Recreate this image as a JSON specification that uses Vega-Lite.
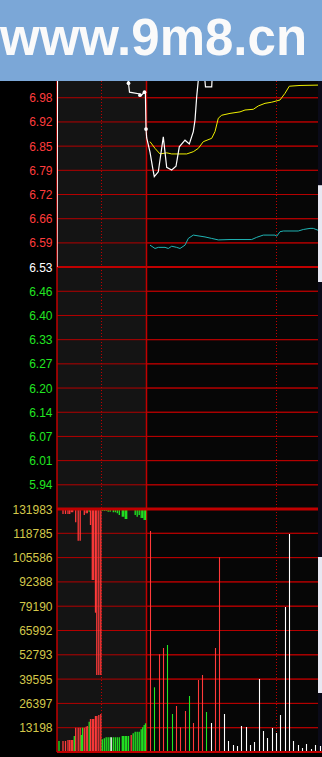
{
  "$schema": "https://vega.github.io/schema/vega-lite/v6.json",
  "background": "#000000",
  "padding": {"left": 0, "top": 0, "right": 0, "bottom": 5},
  "spacing": 0,
  "bounds": "flush",
  "config": {
    "view": {"stroke": null},
    "scale": {"continuousPadding": 0},
    "axis": {"labelFont": "Liberation Sans", "labelFontSize": 12, "ticks": false, "tickSize": 0, "domain": false, "grid": false, "labelPadding": 5, "minExtent": 57, "maxExtent": 57, "labelFlush": false, "labelOverlap": false, "tickCount": 100, "title": null}
  },
  "datasets": {
    "price": [
      {"t": 0, "p": 6.53, "s": "price"}, {"t": 0.6, "p": 7.12, "s": "price"}, {"t": 1.2, "p": 7.18, "s": "price"},
      {"t": 68, "p": 7.18, "s": "price"}, {"t": 70.5, "p": 7.08, "s": "price"}, {"t": 71.5, "p": 7.024, "s": "price"},
      {"t": 72.5, "p": 7.0, "s": "price"}, {"t": 83, "p": 6.995, "s": "price"}, {"t": 84.5, "p": 6.992, "s": "price"},
      {"t": 87.5, "p": 7.0, "s": "price"}, {"t": 88.4, "p": 6.998, "s": "price"}, {"t": 89, "p": 6.901, "s": "price"},
      {"t": 89.7, "p": 6.877, "s": "price"}, {"t": 93, "p": 6.839, "s": "price"}, {"t": 95.7, "p": 6.796, "s": "price"},
      {"t": 97.3, "p": 6.773, "s": "price"}, {"t": 101.3, "p": 6.786, "s": "price"}, {"t": 106.3, "p": 6.88, "s": "price"},
      {"t": 109.7, "p": 6.798, "s": "price"}, {"t": 114.7, "p": 6.791, "s": "price"}, {"t": 119, "p": 6.801, "s": "price"},
      {"t": 122.3, "p": 6.853, "s": "price"}, {"t": 128, "p": 6.871, "s": "price"}, {"t": 132.3, "p": 6.861, "s": "price"},
      {"t": 136.3, "p": 6.894, "s": "price"}, {"t": 138, "p": 6.925, "s": "price"}, {"t": 139.7, "p": 6.988, "s": "price"},
      {"t": 141.3, "p": 7.032, "s": "price"}, {"t": 143, "p": 7.1, "s": "price"}, {"t": 146.5, "p": 7.1, "s": "price"},
      {"t": 147.3, "p": 7.05, "s": "price"}, {"t": 148.5, "p": 7.014, "s": "price"}, {"t": 154.7, "p": 7.014, "s": "price"},
      {"t": 155.3, "p": 7.05, "s": "price"}, {"t": 156.5, "p": 7.12, "s": "price"}, {"t": 261, "p": 7.15, "s": "price"},
      {"t": 93, "p": 6.867, "s": "avg"}, {"t": 98, "p": 6.849, "s": "avg"}, {"t": 103, "p": 6.834, "s": "avg"},
      {"t": 109.7, "p": 6.837, "s": "avg"}, {"t": 114.7, "p": 6.834, "s": "avg"}, {"t": 129.7, "p": 6.834, "s": "avg"},
      {"t": 136.3, "p": 6.84, "s": "avg"}, {"t": 141.3, "p": 6.849, "s": "avg"}, {"t": 146.3, "p": 6.867, "s": "avg"},
      {"t": 154.7, "p": 6.876, "s": "avg"}, {"t": 158, "p": 6.894, "s": "avg"}, {"t": 161.3, "p": 6.93, "s": "avg"},
      {"t": 164.7, "p": 6.938, "s": "avg"}, {"t": 173, "p": 6.943, "s": "avg"}, {"t": 183, "p": 6.947, "s": "avg"},
      {"t": 188, "p": 6.952, "s": "avg"}, {"t": 196.3, "p": 6.954, "s": "avg"}, {"t": 201.3, "p": 6.963, "s": "avg"},
      {"t": 208, "p": 6.97, "s": "avg"}, {"t": 214.7, "p": 6.973, "s": "avg"}, {"t": 223, "p": 6.979, "s": "avg"},
      {"t": 228, "p": 6.997, "s": "avg"}, {"t": 232.3, "p": 7.016, "s": "avg"}, {"t": 243, "p": 7.018, "s": "avg"},
      {"t": 261, "p": 7.019, "s": "avg"},
      {"t": 93, "p": 6.589, "s": "osc"}, {"t": 98, "p": 6.58, "s": "osc"}, {"t": 101.3, "p": 6.583, "s": "osc"},
      {"t": 108, "p": 6.583, "s": "osc"}, {"t": 111.3, "p": 6.58, "s": "osc"}, {"t": 114.7, "p": 6.586, "s": "osc"},
      {"t": 119.7, "p": 6.583, "s": "osc"}, {"t": 123, "p": 6.58, "s": "osc"}, {"t": 128, "p": 6.589, "s": "osc"},
      {"t": 131.3, "p": 6.607, "s": "osc"}, {"t": 136.3, "p": 6.616, "s": "osc"}, {"t": 148, "p": 6.611, "s": "osc"},
      {"t": 154.7, "p": 6.607, "s": "osc"}, {"t": 161.3, "p": 6.603, "s": "osc"}, {"t": 173, "p": 6.604, "s": "osc"},
      {"t": 194.7, "p": 6.604, "s": "osc"}, {"t": 199.7, "p": 6.61, "s": "osc"}, {"t": 206.3, "p": 6.616, "s": "osc"},
      {"t": 218, "p": 6.616, "s": "osc"}, {"t": 219.7, "p": 6.613, "s": "osc"}, {"t": 223, "p": 6.625, "s": "osc"},
      {"t": 226.3, "p": 6.627, "s": "osc"}, {"t": 241.3, "p": 6.627, "s": "osc"}, {"t": 246.3, "p": 6.631, "s": "osc"},
      {"t": 253, "p": 6.634, "s": "osc"}, {"t": 256.3, "p": 6.634, "s": "osc"}, {"t": 261, "p": 6.629, "s": "osc"}
    ],
    "dots": [
      {"t": 71.5, "p": 7.024}, {"t": 83, "p": 6.992}, {"t": 87.5, "p": 7.0}, {"t": 89, "p": 6.901}
    ],
    "priceTicks": [
      {"p": 5.945}, {"p": 6.01}, {"p": 6.075}, {"p": 6.14}, {"p": 6.205}, {"p": 6.27}, {"p": 6.335}, {"p": 6.4},
      {"p": 6.465}, {"p": 6.595}, {"p": 6.66}, {"p": 6.725}, {"p": 6.79}, {"p": 6.855}, {"p": 6.92}, {"p": 6.985}
    ],
    "volTicks": [
      {"v": 13198.3}, {"v": 26396.6}, {"v": 39594.9}, {"v": 52793.2}, {"v": 65991.5},
      {"v": 79189.8}, {"v": 92388.1}, {"v": 105586.4}, {"v": 118784.7}
    ],
    "prevBars": [
      {"t": 2, "v": 5974, "h": 131430, "c": "g"}, {"t": 6, "v": 5974, "h": 129258, "c": "r"},
      {"t": 8.5, "v": 5974, "h": 129258, "c": "r"}, {"t": 11, "v": 6517, "h": 129258, "c": "r"},
      {"t": 12.7, "v": 6517, "h": 129258, "c": "r"}, {"t": 14.3, "v": 6517, "h": 130181, "c": "r"},
      {"t": 15.7, "v": 6517, "h": 130181, "c": "r"}, {"t": 17.3, "v": 8690, "h": null, "c": "g"},
      {"t": 18.7, "v": 13197, "h": 124750, "c": "r"}, {"t": 21.2, "v": 13197, "h": 114757, "c": "r"},
      {"t": 23.2, "v": 13197, "h": 114757, "c": "r"}, {"t": 24.3, "v": 9233, "h": null, "c": "g"},
      {"t": 25.5, "v": 13197, "h": 131430, "c": "g"}, {"t": 27.3, "v": 13197, "h": 128715, "c": "r"},
      {"t": 29.2, "v": 13740, "h": 129638, "c": "r"}, {"t": 30.3, "v": 14121, "h": 129638, "c": "r"},
      {"t": 32.2, "v": 16456, "h": 130507, "c": "g"}, {"t": 33.5, "v": 17922, "h": 123284, "c": "r"},
      {"t": 35.3, "v": 17922, "h": 93413, "c": "r"}, {"t": 36.7, "v": 17922, "h": 93413, "c": "r"},
      {"t": 38.5, "v": 19552, "h": 75654, "c": "r"}, {"t": 39.8, "v": 19552, "h": 41819, "c": "r"},
      {"t": 41.8, "v": 20095, "h": 41819, "c": "r"}, {"t": 43.8, "v": 20638, "h": 41819, "c": "r"},
      {"t": 45.3, "v": 6897, "h": 130887, "c": "g"}, {"t": 47.3, "v": 7440, "h": 130887, "c": "g"},
      {"t": 49.2, "v": 7983, "h": 130887, "c": "g"}, {"t": 51.2, "v": 7983, "h": 130507, "c": "g"},
      {"t": 53.2, "v": 7983, "h": 130507, "c": "g"}, {"t": 54.2, "v": 7983, "h": null, "c": "w"},
      {"t": 56.3, "v": 7983, "h": 130181, "c": "g"}, {"t": 58.3, "v": 7983, "h": 130181, "c": "g"},
      {"t": 60.3, "v": 7983, "h": 129638, "c": "g"}, {"t": 62.3, "v": 7983, "h": 128715, "c": "g"},
      {"t": 65.3, "v": 8690, "h": 127792, "c": "g"}, {"t": 66.7, "v": 8690, "h": 127792, "c": "g"},
      {"t": 68.3, "v": 8690, "h": 126542, "c": "g"}, {"t": 69.7, "v": 8690, "h": 126542, "c": "g"},
      {"t": 71.5, "v": 8690, "h": 131430, "c": "g"}, {"t": 74.2, "v": 9233, "h": 131430, "c": "r"},
      {"t": 76.2, "v": 10156, "h": null, "c": "g"}, {"t": 78.2, "v": 11025, "h": 128715, "c": "g"},
      {"t": 80.2, "v": 11025, "h": 127792, "c": "g"}, {"t": 82.2, "v": 11025, "h": 128715, "c": "g"},
      {"t": 84.2, "v": 12328, "h": 127085, "c": "g"}, {"t": 85.7, "v": 13414, "h": 127085, "c": "g"},
      {"t": 87.2, "v": 14664, "h": 125999, "c": "g"}, {"t": 88.5, "v": 15587, "h": 125999, "c": "g"}
    ],
    "curBars": [
      {"t": 93.5, "v": 120025, "c": "r"}, {"t": 97.5, "v": 35138, "c": "g"}, {"t": 102.5, "v": 53061, "c": "r"},
      {"t": 106.5, "v": 56482, "c": "r"}, {"t": 110.5, "v": 58112, "c": "g"}, {"t": 115.5, "v": 20638, "c": "g"},
      {"t": 119.5, "v": 24983, "c": "r"}, {"t": 123.5, "v": 13414, "c": "r"}, {"t": 128.5, "v": 22267, "c": "r"},
      {"t": 132.5, "v": 30414, "c": "g"}, {"t": 136.5, "v": 15750, "c": "r"}, {"t": 141.5, "v": 39103, "c": "r"},
      {"t": 145.5, "v": 41819, "c": "r"}, {"t": 149.5, "v": 21724, "c": "g"}, {"t": 154.5, "v": 15750, "c": "w"},
      {"t": 158.5, "v": 56482, "c": "r"}, {"t": 162.5, "v": 105741, "c": "r"}, {"t": 167.5, "v": 20638, "c": "w"},
      {"t": 171.5, "v": 5974, "c": "w"}, {"t": 176.5, "v": 3802, "c": "w"}, {"t": 180.5, "v": 3259, "c": "w"},
      {"t": 184.5, "v": 14121, "c": "w"}, {"t": 189.5, "v": 13578, "c": "w"}, {"t": 193.5, "v": 3802, "c": "w"},
      {"t": 197.5, "v": 5431, "c": "w"}, {"t": 202.5, "v": 39646, "c": "w"}, {"t": 206.5, "v": 11405, "c": "w"},
      {"t": 210.5, "v": 7603, "c": "w"}, {"t": 215.5, "v": 13034, "c": "w"}, {"t": 219.5, "v": 10319, "c": "w"},
      {"t": 223.5, "v": 20095, "c": "w"}, {"t": 228.5, "v": 78750, "c": "w"}, {"t": 232.5, "v": 118396, "c": "w"},
      {"t": 236.5, "v": 5974, "c": "w"}, {"t": 241.5, "v": 3802, "c": "w"}, {"t": 245.5, "v": 2172, "c": "w"},
      {"t": 249.5, "v": 4345, "c": "w"}, {"t": 254.5, "v": 1629, "c": "w"}, {"t": 258.5, "v": 3802, "c": "w"},
      {"t": 263.5, "v": 3259, "c": "w"}
    ]
  },
  "vconcat": [
    {
      "width": 265,
      "height": 81,
      "view": {"fill": "#7ba7d7", "stroke": null},
      "data": {"values": [{"site": "www.9m8.cn", "from": -57, "to": 265}]},
      "layer": [
        {
          "mark": {"type": "rect", "color": "#7ba7d7"},
          "encoding": {
            "x": {"field": "from", "type": "quantitative", "scale": {"domain": [0, 265], "nice": false, "zero": false}, "axis": null},
            "x2": {"field": "to"}
          }
        },
        {
          "mark": {"type": "text", "font": "Liberation Sans", "fontWeight": "bold", "fontSize": 51, "color": "#fafafa", "align": "left", "baseline": "alphabetic"},
          "encoding": {
            "text": {"field": "site"},
            "x": {"field": "from", "type": "quantitative", "scale": {"domain": [0, 265], "nice": false, "zero": false}, "axis": null},
            "y": {"datum": 0.68, "type": "quantitative", "scale": {"domain": [0, 1], "range": [0, 81]}, "axis": null}
          }
        }
      ]
    },
    {
      "width": 265,
      "height": 428,
      "view": {"fill": "#060606", "stroke": null},
      "data": {"values": [{}]},
      "layer": [
        {
          "data": {"name": "priceTicks"},
          "mark": {"type": "rule", "color": "#b40000", "strokeWidth": 1},
          "encoding": {
            "x": {"datum": 0, "type": "quantitative", "scale": {"domain": [0, 265], "nice": false, "zero": false}, "axis": null},
            "x2": {"datum": 261},
            "y": {
              "field": "p", "type": "quantitative",
              "scale": {"domain": [5.88, 7.03], "nice": false, "zero": false},
              "axis": {
                "title": null,
                "labelOverlap": false,
                "tickCount": 100,
                "values": [5.945, 6.01, 6.075, 6.14, 6.205, 6.27, 6.335, 6.4, 6.465, 6.53, 6.595, 6.66, 6.725, 6.79, 6.855, 6.92, 6.985],
                "labelExpr": "format(datum.value - 0.0001, '.2f')",
                "labelColor": {"condition": [{"test": "datum.value > 6.535", "value": "#ff3c3c"}, {"test": "datum.value < 6.525", "value": "#22e622"}], "value": "#ffffff"}
              }
            }
          }
        },
        {
          "data": {"values": [{"s": 0, "e": 89.5}]},
          "mark": {"type": "rect", "color": "#141414"},
          "encoding": {
            "x": {"field": "s", "type": "quantitative", "scale": {"domain": [0, 265], "nice": false, "zero": false}, "axis": null},
            "x2": {"field": "e"}
          }
        },
        {
          "data": {"values": [{"s": 261, "e": 265}]},
          "mark": {"type": "rect", "color": "#0a0a18"},
          "encoding": {
            "x": {"field": "s", "type": "quantitative", "scale": {"domain": [0, 265], "nice": false, "zero": false}, "axis": null},
            "x2": {"field": "e"}
          }
        },
        {
          "data": {"values": [{"s": 261, "e": 265, "lo": 6.49, "hi": 6.75}]},
          "mark": {"type": "rect", "color": "#e8e8f2"},
          "encoding": {
            "x": {"field": "s", "type": "quantitative", "scale": {"domain": [0, 265], "nice": false, "zero": false}, "axis": null},
            "x2": {"field": "e"},
            "y": {"field": "lo", "type": "quantitative", "scale": {"domain": [5.88, 7.03], "nice": false, "zero": false}},
            "y2": {"field": "hi"}
          }
        },
        {
          "data": {"name": "priceTicks"},
          "mark": {"type": "rule", "color": "#b40000", "strokeWidth": 1},
          "encoding": {
            "x": {"datum": 0, "type": "quantitative", "scale": {"domain": [0, 265], "nice": false, "zero": false}, "axis": null},
            "x2": {"datum": 261},
            "y": {"field": "p", "type": "quantitative", "scale": {"domain": [5.88, 7.03], "nice": false, "zero": false}}
          }
        },
        {
          "mark": {"type": "rule", "color": "#c00000", "strokeWidth": 2},
          "encoding": {
            "x": {"datum": 0, "type": "quantitative", "scale": {"domain": [0, 265], "nice": false, "zero": false}, "axis": null},
            "x2": {"datum": 261},
            "y": {"datum": 6.53, "type": "quantitative", "scale": {"domain": [5.88, 7.03], "nice": false, "zero": false}}
          }
        },
        {
          "data": {"values": [{"t": 0}, {"t": 89.5}]},
          "mark": {"type": "rule", "color": "#c00000", "strokeWidth": 1.5},
          "encoding": {
            "x": {"field": "t", "type": "quantitative", "scale": {"domain": [0, 265], "nice": false, "zero": false}, "axis": null}
          }
        },
        {
          "data": {"values": [{"t": 44.5}, {"t": 219.5}]},
          "mark": {"type": "rule", "color": "#c00000", "strokeWidth": 1, "strokeDash": [1, 2]},
          "encoding": {
            "x": {"field": "t", "type": "quantitative", "scale": {"domain": [0, 265], "nice": false, "zero": false}, "axis": null}
          }
        },
        {
          "data": {"name": "price"},
          "transform": [{"filter": "datum.s === 'osc'"}],
          "mark": {"type": "line", "color": "#20b4b4", "strokeWidth": 1, "clip": true},
          "encoding": {
            "x": {"field": "t", "type": "quantitative", "scale": {"domain": [0, 265], "nice": false, "zero": false}, "axis": null},
            "y": {"field": "p", "type": "quantitative", "scale": {"domain": [5.88, 7.03], "nice": false, "zero": false}}
          }
        },
        {
          "data": {"name": "price"},
          "transform": [{"filter": "datum.s === 'avg'"}],
          "mark": {"type": "line", "color": "#f0f000", "strokeWidth": 1, "clip": true},
          "encoding": {
            "x": {"field": "t", "type": "quantitative", "scale": {"domain": [0, 265], "nice": false, "zero": false}, "axis": null},
            "y": {"field": "p", "type": "quantitative", "scale": {"domain": [5.88, 7.03], "nice": false, "zero": false}}
          }
        },
        {
          "data": {"name": "price"},
          "transform": [{"filter": "datum.s === 'price'"}],
          "mark": {"type": "line", "color": "#ffffff", "strokeWidth": 1.2, "clip": true},
          "encoding": {
            "x": {"field": "t", "type": "quantitative", "scale": {"domain": [0, 265], "nice": false, "zero": false}, "axis": null},
            "y": {"field": "p", "type": "quantitative", "scale": {"domain": [5.88, 7.03], "nice": false, "zero": false}}
          }
        },
        {
          "data": {"name": "dots"},
          "mark": {"type": "circle", "color": "#ffffff", "size": 14, "opacity": 1},
          "encoding": {
            "x": {"field": "t", "type": "quantitative", "scale": {"domain": [0, 265], "nice": false, "zero": false}, "axis": null},
            "y": {"field": "p", "type": "quantitative", "scale": {"domain": [5.88, 7.03], "nice": false, "zero": false}}
          }
        }
      ]
    },
    {
      "width": 265,
      "height": 243,
      "view": {"fill": "#060606", "stroke": null},
      "data": {"values": [{}]},
      "layer": [
        {
          "data": {"name": "volTicks"},
          "mark": {"type": "rule", "color": "#b40000", "strokeWidth": 1},
          "encoding": {
            "x": {"datum": 0, "type": "quantitative", "scale": {"domain": [0, 265], "nice": false, "zero": false, "padding": 0}, "axis": null},
            "x2": {"datum": 261},
            "y": {
              "field": "v", "type": "quantitative",
              "scale": {"domain": [0, 131983], "nice": false, "zero": false},
              "axis": {
                "title": null,
                "labelOverlap": false,
                "tickCount": 100,
                "values": [13198.3, 26396.6, 39594.9, 52793.2, 65991.5, 79189.8, 92388.1, 105586.4, 118784.7, 131983],
                "labelExpr": "format(datum.value, 'd')",
                "labelColor": "#d4c84a"
              }
            }
          }
        },
        {
          "data": {"values": [{"s": 0, "e": 89.5}]},
          "mark": {"type": "rect", "color": "#141414"},
          "encoding": {
            "x": {"field": "s", "type": "quantitative", "scale": {"domain": [0, 265], "nice": false, "zero": false, "padding": 0}, "axis": null},
            "x2": {"field": "e"}
          }
        },
        {
          "data": {"values": [{"s": 261, "e": 265}]},
          "mark": {"type": "rect", "color": "#0a0a18"},
          "encoding": {
            "x": {"field": "s", "type": "quantitative", "scale": {"domain": [0, 265], "nice": false, "zero": false, "padding": 0}, "axis": null},
            "x2": {"field": "e"}
          }
        },
        {
          "data": {"values": [{"s": 261, "e": 265, "lo": 32043, "hi": 105905}]},
          "mark": {"type": "rect", "color": "#e8e8f2"},
          "encoding": {
            "x": {"field": "s", "type": "quantitative", "scale": {"domain": [0, 265], "nice": false, "zero": false, "padding": 0}, "axis": null},
            "x2": {"field": "e"},
            "y": {"field": "lo", "type": "quantitative", "scale": {"domain": [0, 131983], "nice": false, "zero": false}},
            "y2": {"field": "hi"}
          }
        },
        {
          "data": {"name": "volTicks"},
          "mark": {"type": "rule", "color": "#b40000", "strokeWidth": 1},
          "encoding": {
            "x": {"datum": 0, "type": "quantitative", "scale": {"domain": [0, 265], "nice": false, "zero": false, "padding": 0}, "axis": null},
            "x2": {"datum": 261},
            "y": {"field": "v", "type": "quantitative", "scale": {"domain": [0, 131983], "nice": false, "zero": false}}
          }
        },
        {
          "data": {"values": [{"t": 0}, {"t": 89.5}]},
          "mark": {"type": "rule", "color": "#c00000", "strokeWidth": 1.5},
          "encoding": {
            "x": {"field": "t", "type": "quantitative", "scale": {"domain": [0, 265], "nice": false, "zero": false, "padding": 0}, "axis": null}
          }
        },
        {
          "data": {"values": [{"t": 44.5}, {"t": 219.5}]},
          "mark": {"type": "rule", "color": "#c00000", "strokeWidth": 1, "strokeDash": [1, 2]},
          "encoding": {
            "x": {"field": "t", "type": "quantitative", "scale": {"domain": [0, 265], "nice": false, "zero": false, "padding": 0}, "axis": null}
          }
        },
        {
          "data": {"name": "prevBars"},
          "mark": {"type": "bar", "width": 1.3},
          "encoding": {
            "x": {"field": "t", "type": "quantitative", "scale": {"domain": [0, 265], "nice": false, "zero": false, "padding": 0}, "axis": null},
            "y": {"field": "v", "type": "quantitative", "stack": null, "scale": {"domain": [0, 131983], "nice": false, "zero": false}},
            "y2": {"datum": 0},
            "color": {"field": "c", "type": "nominal", "scale": {"domain": ["r", "g", "w"], "range": ["#ff3a3a", "#22e622", "#ffffff"]}, "legend": null}
          }
        },
        {
          "data": {"name": "prevBars"},
          "transform": [{"filter": "isValid(datum.h)"}],
          "mark": {"type": "bar", "width": 1.3},
          "encoding": {
            "x": {"field": "t", "type": "quantitative", "scale": {"domain": [0, 265], "nice": false, "zero": false, "padding": 0}, "axis": null},
            "y": {"field": "h", "type": "quantitative", "stack": null, "scale": {"domain": [0, 131983], "nice": false, "zero": false}},
            "y2": {"datum": 131983},
            "color": {"field": "c", "type": "nominal", "scale": {"domain": ["r", "g", "w"], "range": ["#ff3a3a", "#22e622", "#ffffff"]}, "legend": null}
          }
        },
        {
          "data": {"name": "curBars"},
          "mark": {"type": "bar", "width": 1.1},
          "encoding": {
            "x": {"field": "t", "type": "quantitative", "scale": {"domain": [0, 265], "nice": false, "zero": false, "padding": 0}, "axis": null},
            "y": {"field": "v", "type": "quantitative", "stack": null, "scale": {"domain": [0, 131983], "nice": false, "zero": false}},
            "y2": {"datum": 0},
            "color": {"field": "c", "type": "nominal", "scale": {"domain": ["r", "g", "w"], "range": ["#ff3a3a", "#22e622", "#ffffff"]}, "legend": null}
          }
        },
        {
          "mark": {"type": "rule", "color": "#c00000", "strokeWidth": 3},
          "encoding": {
            "x": {"datum": 0, "type": "quantitative", "scale": {"domain": [0, 265], "nice": false, "zero": false, "padding": 0}, "axis": null},
            "x2": {"datum": 261},
            "y": {"datum": 131983, "type": "quantitative", "scale": {"domain": [0, 131983], "nice": false, "zero": false}}
          }
        },
        {
          "mark": {"type": "rule", "color": "#c00000", "strokeWidth": 2},
          "encoding": {
            "x": {"datum": 0, "type": "quantitative", "scale": {"domain": [0, 265], "nice": false, "zero": false, "padding": 0}, "axis": null},
            "x2": {"datum": 265},
            "y": {"datum": 0, "type": "quantitative", "scale": {"domain": [0, 131983], "nice": false, "zero": false}}
          }
        }
      ]
    }
  ]
}
